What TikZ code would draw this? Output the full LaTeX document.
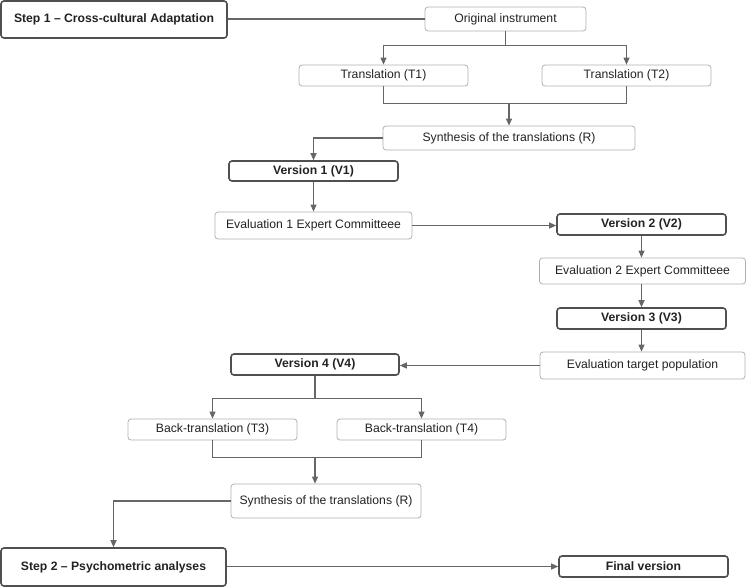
\documentclass[tikz,border=0pt]{standalone}
\usepackage{fontspec}
\setmainfont{Liberation Sans}
\usetikzlibrary{arrows.meta,calc}
\definecolor{linegray}{HTML}{666666}
\definecolor{boxgray}{HTML}{B0B0B0}
\definecolor{boldgray}{HTML}{505050}
\definecolor{txt}{HTML}{222222}
\tikzset{
  base/.style={rounded corners=3pt, inner sep=0pt, align=center, text=txt,
    font=\fontsize{12.2}{14}\selectfont},
  thinbox/.style={base, draw=boxgray, line width=0.8pt},
  boldbox/.style={base, draw=boldgray, line width=1.6pt,
    font=\fontsize{12.2}{14}\selectfont\bfseries},
  conn/.style={draw=linegray, line width=1.1pt},
  arr/.style={conn, -{Triangle[length=7pt,width=6pt]}},
}
\begin{document}
\begin{tikzpicture}[x=1pt,y=-1pt]
\useasboundingbox (0,0) rectangle (746,587);

\node[boldbox, minimum width=226pt, minimum height=37pt] (step1) at (114,19.5) {Step 1 -- Cross-cultural Adaptation};
\node[thinbox, minimum width=161pt, minimum height=24pt] (orig) at (505.5,19) {Original instrument};
\node[thinbox, minimum width=169pt, minimum height=21pt] (t1) at (383.5,75.5) {Translation (T1)};
\node[thinbox, minimum width=169pt, minimum height=21pt] (t2) at (626.5,75.5) {Translation (T2)};
\node[thinbox, minimum width=252pt, minimum height=24pt] (syn1) at (509,138) {Synthesis of the translations (R)};
\node[boldbox, minimum width=169pt, minimum height=20pt] (v1) at (313.5,171) {Version 1 (V1)};
\node[thinbox, minimum width=197pt, minimum height=27pt] (e1) at (313.5,225.5) {Evaluation 1 Expert Committeee};
\node[boldbox, minimum width=169pt, minimum height=21pt] (v2) at (641.5,224.5) {Version 2 (V2)};
\node[thinbox, minimum width=206pt, minimum height=26pt] (e2) at (642.5,271) {Evaluation 2 Expert Committeee};
\node[boldbox, minimum width=169pt, minimum height=21pt] (v3) at (641.5,318.5) {Version 3 (V3)};
\node[thinbox, minimum width=205pt, minimum height=27pt] (et) at (642.5,365.5) {Evaluation target population};
\node[boldbox, minimum width=168pt, minimum height=21pt] (v4) at (315,364.5) {Version 4 (V4)};
\node[thinbox, minimum width=169pt, minimum height=21pt] (t3) at (212.5,429.5) {Back-translation (T3)};
\node[thinbox, minimum width=169pt, minimum height=21pt] (t4) at (421.5,429.5) {Back-translation (T4)};
\node[thinbox, minimum width=190pt, minimum height=34pt] (syn2) at (326,501) {Synthesis of the translations (R)};
\node[boldbox, minimum width=225pt, minimum height=38pt] (step2) at (113.5,567) {Step 2 -- Psychometric analyses};
\node[boldbox, minimum width=169pt, minimum height=21pt] (fin) at (643.5,566.5) {Final version};

% connectors
\draw[conn] (step1.east |- orig.west) -- (orig.west);
\coordinate (j0) at ($(orig.south)+(0,14)$);
\draw[conn] (orig.south) -- (j0);
\draw[arr] (j0) -| (t1.north);
\draw[arr] (j0) -| (t2.north);
\coordinate (j1) at ($(t1.south)+(0,17)$);
\draw[conn] (t1.south) -- (j1) -| (t2.south);
\draw[arr] (syn1.north |- j1) -- (syn1.north);
\draw[arr] (syn1.west) -| (v1.north);
\draw[arr] (v1.south) -- (e1.north);
\draw[arr] (e1.east) -- (e1.east -| v2.west);
\draw[arr] (v2.south) -- (v2.south |- e2.north);
\draw[arr] (v2.south |- e2.south) -- (v3.north);
\draw[arr] (v3.south) -- (v3.south |- et.north);
\draw[arr] (et.west) -- (et.west -| v4.east);
\coordinate (j2) at ($(v4.south)+(0,23)$);
\draw[conn] (v4.south) -- (j2);
\draw[arr] (j2) -| (t3.north);
\draw[arr] (j2) -| (t4.north);
\coordinate (j3) at ($(t3.south)+(0,17)$);
\draw[conn] (t3.south) -- (j3) -| (t4.south);
\draw[arr] (j3 -| v4.south) -- (v4.south |- syn2.north);
\draw[arr] (syn2.west) -| (step2.north);
\draw[arr] (step2.east |- fin.west) -- (fin.west);
\end{tikzpicture}
\end{document}
